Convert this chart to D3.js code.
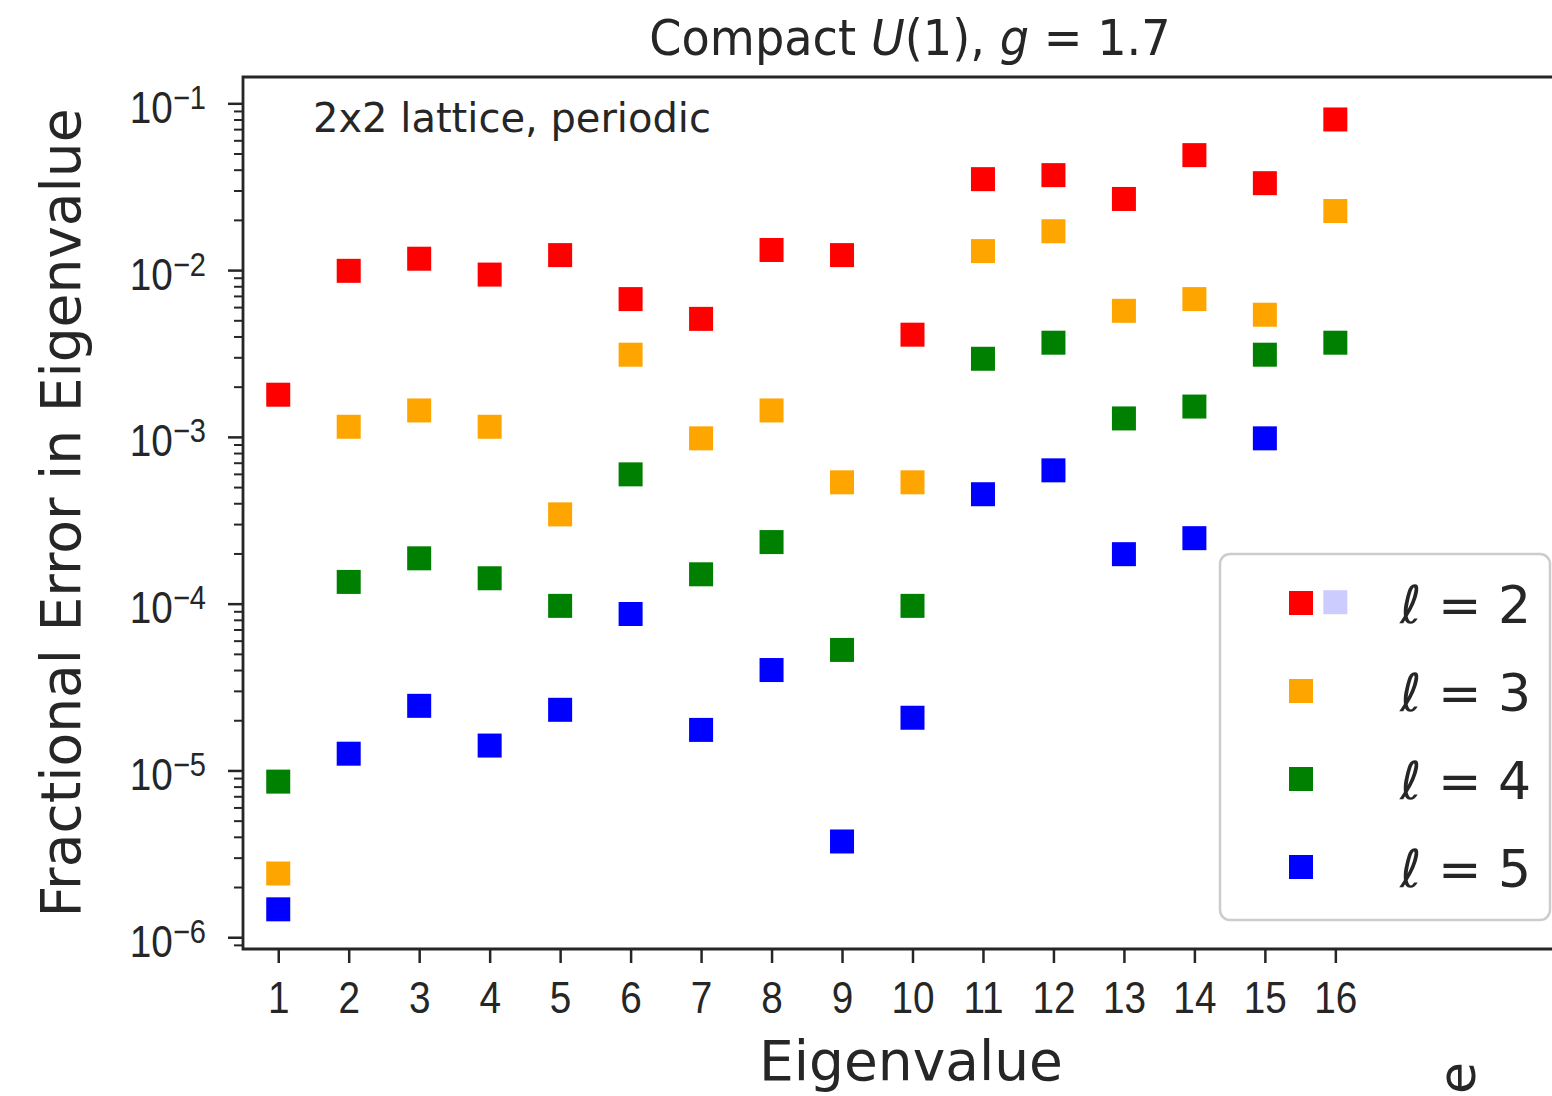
<!DOCTYPE html>
<html>
<head>
<meta charset="utf-8">
<script src="https://cdn.jsdelivr.net/npm/d3@7"></script>
<style>
  html, body { margin: 0; padding: 0; background: #fff; }
  svg { display: block; font-family: "DejaVu Sans", sans-serif; }
</style>
</head>
<body>
<svg id="chart" width="1552" height="1096"></svg>
<script>
// ---- data ----
const eigenIndex = [1,2,3,4,5,6,7,8,9,10,11,12,13,14,15,16];
const ell2 = [1.79e-3, 9.9e-3, 1.17e-2, 9.4e-3, 1.23e-2, 6.7e-3, 5.1e-3, 1.32e-2, 1.23e-2, 4.1e-3, 3.51e-2, 3.71e-2, 2.67e-2, 4.89e-2, 3.32e-2, 8.0e-2];
const ell3 = [2.41e-6, 1.15e-3, 1.44e-3, 1.15e-3, 3.43e-4, 3.11e-3, 9.8e-4, 1.44e-3, 5.34e-4, 5.34e-4, 1.30e-2, 1.71e-2, 5.7e-3, 6.7e-3, 5.4e-3, 2.26e-2];
const ell4 = [8.57e-6, 1.35e-4, 1.87e-4, 1.42e-4, 9.7e-5, 5.96e-4, 1.50e-4, 2.34e-4, 5.28e-5, 9.7e-5, 2.94e-3, 3.67e-3, 1.29e-3, 1.52e-3, 3.11e-3, 3.67e-3];
const ell5 = [1.47e-6, 1.26e-5, 2.44e-5, 1.41e-5, 2.31e-5, 8.67e-5, 1.75e-5, 4.0e-5, 3.75e-6, 2.07e-5, 4.53e-4, 6.3e-4, 1.98e-4, 2.47e-4, 9.8e-4, 1.02e-4];
const seriesNames = ["2", "3", "4", "5"];
const seriesColors = ["#ff0000", "#ffa500", "#008000", "#0000ff"];
const xTickValues = eigenIndex;
const yTickExponents = [-6, -5, -4, -3, -2, -1];

const seriesList = [ell2, ell3, ell4, ell5].map((vals, i) => ({
  name: seriesNames[i], color: seriesColors[i],
  points: vals.map((v, j) => ({ x: eigenIndex[j], y: v }))
}));

// ---- layout ----
const L = 243, R = 1582, T = 77, B = 949;
const textColor = "#262626";
const svg = d3.select("#chart");

const x = d3.scaleLinear().domain([0.5, 19.5]).range([L, R]);
const y = d3.scaleLog().domain([8.5e-7, 0.1438]).range([B, T]);

// ---- x axis ----
const xAxis = svg.append("g").attr("transform", `translate(0,${B})`)
  .call(d3.axisBottom(x).tickValues(xTickValues).tickSize(14).tickSizeOuter(0).tickFormat(d => String(d)));
xAxis.select(".domain").remove();
xAxis.selectAll(".tick line").attr("stroke", textColor).attr("stroke-width", 2.5);
xAxis.selectAll(".tick text").each(function(d) {
  const t = d3.select(this);
  t.attr("y", null).attr("dy", null)
   .attr("transform", `translate(0,64) scale(0.88,1)`)
   .attr("font-size", 44).attr("fill", textColor).attr("text-anchor", "middle");
});

// ---- y axis minor ticks ----
const minorVals = [];
for (let e = -7; e <= -1; e++) for (let m = 2; m <= 9; m++) {
  const v = m * Math.pow(10, e);
  if (v >= y.domain()[0] && v <= y.domain()[1]) minorVals.push(v);
}
const yMinor = svg.append("g").attr("transform", `translate(${L},0)`)
  .call(d3.axisLeft(y).tickValues(minorVals).tickSize(9).tickFormat(""));
yMinor.select(".domain").remove();
yMinor.selectAll(".tick line").attr("stroke", textColor).attr("stroke-width", 2);

// ---- y axis major ticks ----
const yMajor = svg.append("g").attr("transform", `translate(${L},0)`)
  .call(d3.axisLeft(y).tickValues(yTickExponents.map(e => Math.pow(10, e))).tickSize(15).tickFormat(""));
yMajor.select(".domain").remove();
yMajor.selectAll(".tick line").attr("stroke", textColor).attr("stroke-width", 2.5);
yMajor.selectAll(".tick").each(function(d) {
  const e = Math.round(Math.log10(d));
  const g = d3.select(this).append("g").attr("transform", "translate(-37,19) scale(0.88,1)");
  const t = g.append("text").attr("text-anchor", "end").attr("fill", textColor).attr("font-size", 44);
  t.append("tspan").text("10");
  t.append("tspan").attr("font-size", 33).attr("dy", -14).text("\u2212" + Math.abs(e));
});

// ---- spines ----
svg.append("path")
  .attr("d", `M${R},${T} L${L},${T} L${L},${B} L${R},${B}`)
  .attr("fill", "none").attr("stroke", textColor).attr("stroke-width", 2.8);

// ---- scatter points ----
const S = 24;
const gPts = svg.append("g");
seriesList.forEach(s => {
  gPts.selectAll(null).data(s.points).enter().append("rect")
    .attr("x", d => x(d.x) - S / 2)
    .attr("y", d => y(d.y) - S / 2)
    .attr("width", S).attr("height", S)
    .attr("fill", s.color);
});

// ---- annotation ----
svg.append("text").attr("x", 313).attr("y", 132).attr("font-size", 40)
  .attr("fill", textColor).text("2x2 lattice, periodic");

// ---- title ----
const title = svg.append("text").attr("transform", "translate(910,55) scale(0.925,1)")
  .attr("text-anchor", "middle").attr("font-size", 50).attr("fill", textColor);
title.append("tspan").text("Compact ");
title.append("tspan").attr("font-style", "italic").text("U");
title.append("tspan").text("(1), ");
title.append("tspan").attr("font-style", "italic").text("g");
title.append("tspan").text(" = 1.7");

// ---- axis labels ----
svg.append("text").attr("x", 911).attr("y", 1080).attr("text-anchor", "middle")
  .attr("font-size", 55).attr("fill", textColor).text("Eigenvalue");
svg.append("text").attr("transform", "translate(80,513) rotate(-90)").attr("text-anchor", "middle")
  .attr("font-size", 55).attr("fill", textColor).text("Fractional Error in Eigenvalue");

// ---- legend ----
const leg = svg.append("g");
leg.append("rect").attr("x", 1220).attr("y", 554).attr("width", 330).attr("height", 366)
  .attr("rx", 10).attr("ry", 10)
  .attr("fill", "#ffffff").attr("fill-opacity", 0.8)
  .attr("stroke", "#cccccc").attr("stroke-width", 2.5);
seriesList.forEach((s, i) => {
  const cy = 603 + i * 88;
  leg.append("rect").attr("x", 1301 - S / 2).attr("y", cy - S / 2).attr("width", S).attr("height", S).attr("fill", s.color);
  const t = leg.append("text").attr("x", 1400).attr("y", cy + 20).attr("font-size", 52).attr("fill", textColor);
  t.append("tspan").attr("font-style", "italic").text("\u2113");
  t.append("tspan").text(" = " + s.name);
});

// ---- fragment of neighbouring figure (bottom right) ----
svg.append("text").attr("transform", "translate(1475,1094) rotate(-90)")
  .attr("font-size", 52).attr("fill", textColor).text("e");
</script>
</body>
</html>
